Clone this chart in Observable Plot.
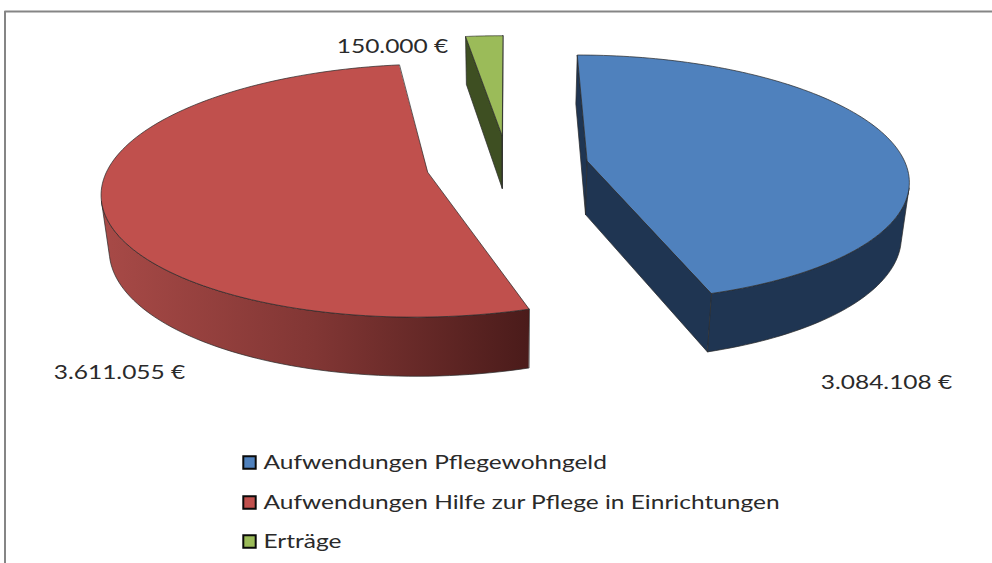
<!DOCTYPE html>
<html>
<head>
<meta charset="utf-8">
<script src="https://cdn.jsdelivr.net/npm/d3@7"></script>
<script src="https://cdn.jsdelivr.net/npm/@observablehq/plot@0.6"></script>
<style>html,body{margin:0;padding:0;background:#fff}svg{display:block}</style>
</head>
<body>
<div id="chart"></div>
<script>
const categories = ["Aufwendungen Pflegewohngeld", "Aufwendungen Hilfe zur Pflege in Einrichtungen", "Erträge"];
const values = [3084108, 3611055, 150000];
const topColors = ["#4f81bd", "#c0504d", "#9bbb59"];
const sideColors = ["#1f3552", "#5e2523", "#3e4f22"];

// projection of the tilted pie
const P = {x0: 507, y0: 165, f: 319, a: 122, b: 0.142, explode: 0.254, h: 54, hz: 0.09, k: 0.98};
const project = (X, Z) => ({
  x: P.x0 + P.f * X / (1 - P.b * Z),
  y: P.y0 + P.a * Z / (1 - P.b * Z)
});
const drop = (p, Z) => ({
  x: P.x0 + (p.x - P.x0) * P.k,
  y: p.y + P.h * (1 + P.hz * Z)
});

const total = d3.sum(values);
let start = 0;
const tops = [], sides = [];
values.forEach((v, i) => {
  const sweep = v / total * 2 * Math.PI, end = start + sweep, mid = start + sweep / 2;
  const ex = P.explode * Math.sin(mid), ez = -P.explode * Math.cos(mid);
  const g = (t, r = 1) => ({X: ex + r * Math.sin(t), Z: ez - r * Math.cos(t)});
  const top = q => project(q.X, q.Z);
  const bot = q => drop(project(q.X, q.Z), q.Z);
  const arc = d3.range(0, 121).map(k => g(start + sweep * k / 120));
  const apex = g(0, 0);
  tops.push([top(apex), ...arc.map(top)]);
  const area = pts => d3.polygonArea(pts.map(p => [p.x, p.y]));
  // radial faces, kept only if they face the viewer
  for (const [a, b] of [[apex, arc[0]], [arc[120], apex]]) {
    const quad = [top(a), top(b), bot(b), bot(a)];
    if (area(quad) > 0) sides.push({i, pts: quad});
  }
  // visible part of the rim
  const vis = [];
  for (let k = 0; k < 120; k++) {
    const q = [top(arc[k]), top(arc[k + 1]), bot(arc[k + 1]), bot(arc[k])];
    if (area(q) > 0) vis.push(k);
  }
  if (vis.length) {
    const lo = d3.min(vis), hi = d3.max(vis) + 1;
    const seg = arc.slice(lo, hi + 1);
    sides.push({i, rim: true, pts: [...seg.map(top), ...seg.slice().reverse().map(bot)]});
  }
  start = end;
});

const fmt = d3.formatLocale({decimal: ",", thousands: ".", grouping: [3], currency: ["", "€"]}).format(",");
const labelPos = [[886, 382], [119, 372], [392, 46]];
const legendY = [462, 502, 541];
const font = "Lato, 'Open Sans', sans-serif";

const redGradient = () => {
  const ns = "http://www.w3.org/2000/svg";
  const defs = document.createElementNS(ns, "defs");
  defs.innerHTML = `<linearGradient id="redrim" gradientUnits="userSpaceOnUse" x1="100" x2="530" y1="0" y2="0">
    <stop offset="0" stop-color="#a84a47"/><stop offset="0.5" stop-color="#813634"/><stop offset="1" stop-color="#4a1b1a"/></linearGradient>`;
  return defs;
};

const poly = (pts, fill) => Plot.line(pts, {x: "x", y: "y", fill, stroke: "#2a2a2a", strokeWidth: 0.8, strokeOpacity: 0.9, curve: "linear-closed"});

const chart = Plot.plot({
  width: 992, height: 563, margin: 0,
  x: {type: "identity", axis: null}, y: {type: "identity", axis: null},
  style: {background: "#fff", fontFamily: font},
  marks: [
    redGradient,
    Plot.line([{x: 4.5, y: 563}, {x: 4.5, y: 11}, {x: 992, y: 11}], {x: "x", y: "y", stroke: "#858585", strokeWidth: 2}),
    ...sides.map(s => poly(s.pts, s.rim && s.i === 1 ? "url(#redrim)" : sideColors[s.i])),
    ...tops.map((t, i) => poly(t, topColors[i])),
    Plot.text(values, {
      x: (d, i) => labelPos[i][0], y: (d, i) => labelPos[i][1],
      text: d => fmt(d) + " €", fontSize: 20, fill: "#2a2a2a"
    }),
    Plot.dot(categories, {
      x: () => 249, y: (d, i) => legendY[i], symbol: "square", r: 7,
      fill: (d, i) => topColors[i], stroke: "#0a0a0a", strokeWidth: 2
    }),
    Plot.text(categories, {
      x: () => 263, y: (d, i) => legendY[i], text: d => d, textAnchor: "start", fontSize: 20, fill: "#2a2a2a",
      letterSpacing: "0.4px"
    })
  ]
});
// the reference's type is stretched horizontally
chart.querySelectorAll("text").forEach(t => {
  t.setAttribute("transform", (t.getAttribute("transform") || "") + " scale(1.225,1)");
});
document.getElementById("chart").append(chart);
</script>
</body>
</html>
